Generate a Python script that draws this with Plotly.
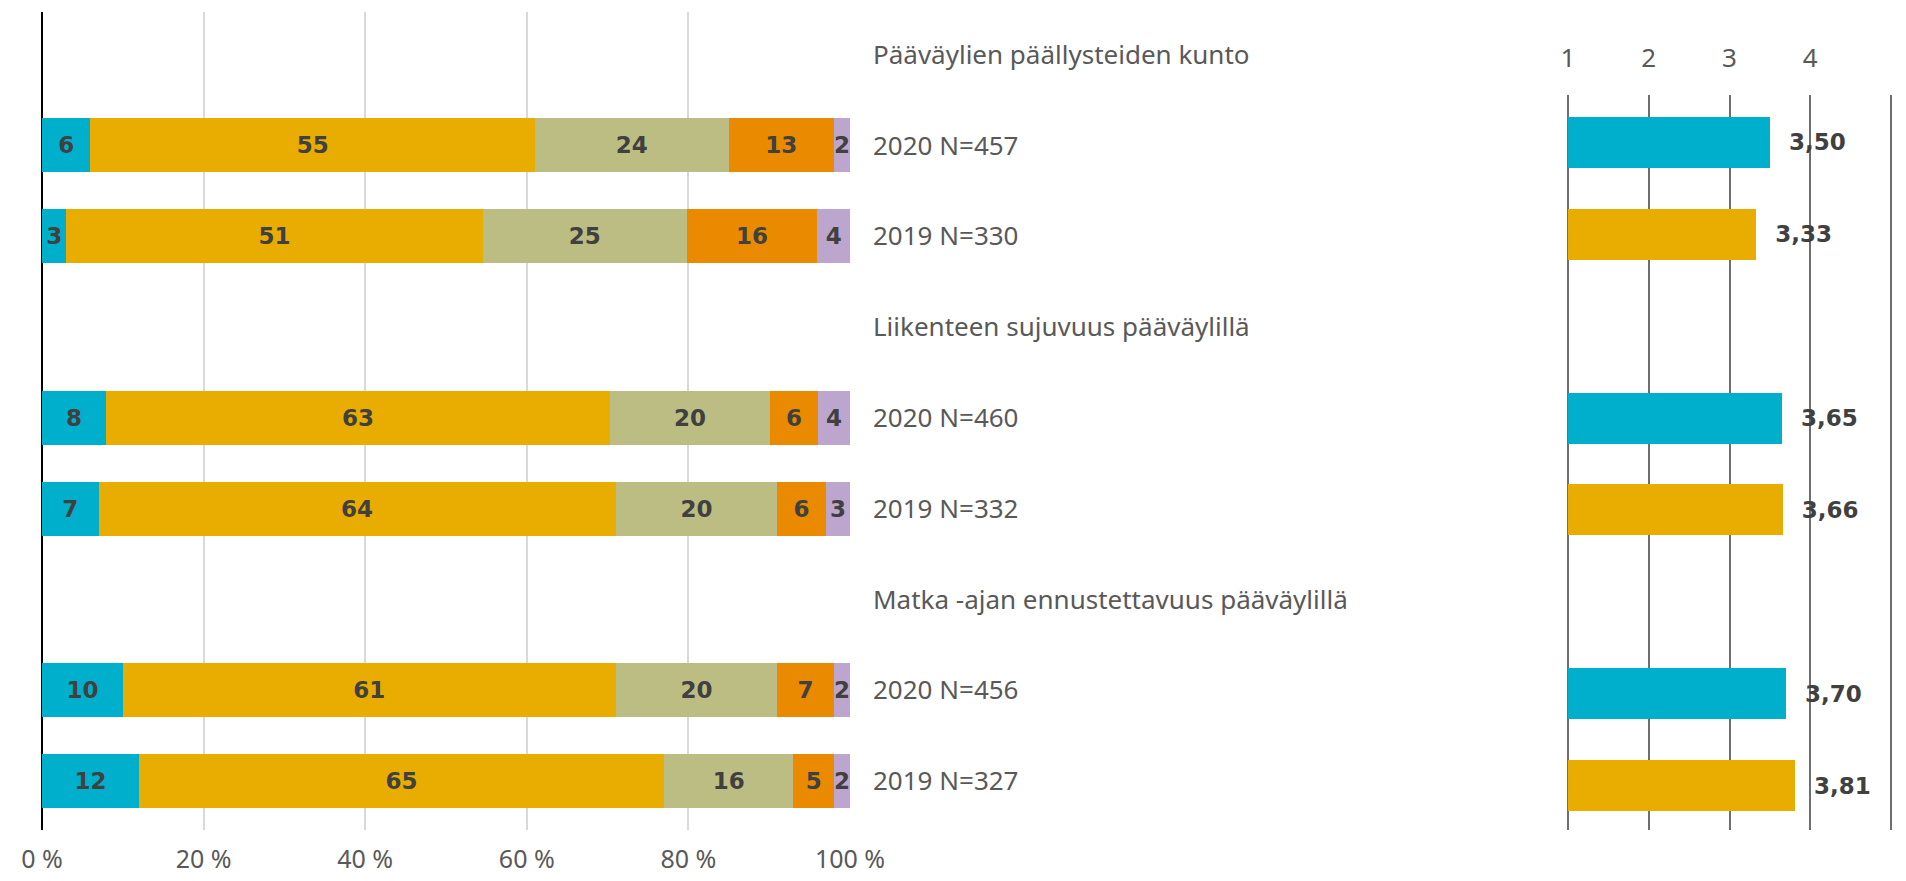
import plotly.graph_objects as go

OFF = 8  # page body margin offset
W, H = 1906 - 2 * OFF, 881 - 2 * OFF  # keep the page free of scrollbars

categories = [
    "Pääväylien päällysteiden kunto",
    "2020 N=457",
    "2019 N=330",
    "Liikenteen sujuvuus pääväylillä",
    "2020 N=460",
    "2019 N=332",
    "Matka -ajan ennustettavuus pääväylillä",
    "2020 N=456",
    "2019 N=327",
]

# stacked shares (%), None for heading rows
s1 = [None, 6, 3, None, 8, 7, None, 10, 12]
s2 = [None, 55, 51, None, 63, 64, None, 61, 65]
s3 = [None, 24, 25, None, 20, 20, None, 20, 16]
s4 = [None, 13, 16, None, 6, 6, None, 7, 5]
s5 = [None, 2, 4, None, 4, 3, None, 2, 2]
series = [s1, s2, s3, s4, s5]
series_colors = ["#00AFCB", "#E9AC00", "#BCBD82", "#EA8A00", "#BDA6CE"]

# mean scores (1-5)
mean_rows = ["2020 N=457", "2019 N=330", "2020 N=460", "2019 N=332", "2020 N=456", "2019 N=327"]
mean_values = [3.50, 3.33, 3.65, 3.66, 3.70, 3.81]
mean_colors = ["#00AFCB", "#E9AC00", "#00AFCB", "#E9AC00", "#00AFCB", "#E9AC00"]
scale_min = 1

pct_ticks = [0, 20, 40, 60, 80, 100]
pct_labels = ["0 %", "20 %", "40 %", "60 %", "80 %", "100 %"]
score_ticks = [1, 2, 3, 4, 5]

# 100 % stacked: normalise each row by its total
row_tot = []
for i in range(len(categories)):
    vals = [s[i] for s in series if s[i] is not None]
    row_tot.append(sum(vals) if vals else None)

fig = go.Figure()

bold_font = dict(family="DejaVu Sans", size=23, color="#404040", weight="bold")

for vals, col in zip(series, series_colors):
    xs = [None if v is None else v * 100.0 / row_tot[i] for i, v in enumerate(vals)]
    fig.add_trace(go.Bar(
        y=categories, x=xs, orientation="h",
        marker=dict(color=col, line=dict(width=0)),
        text=[("" if v is None else str(v)) for v in vals],
        texttemplate="%{text}",
        textposition="inside", insidetextanchor="middle",
        constraintext="none",
        textfont=bold_font,
        width=0.595,
        xaxis="x", yaxis="y", showlegend=False, hoverinfo="skip",
    ))

# bars start at the scale minimum (1)
fig.add_trace(go.Bar(
    y=mean_rows, x=[v - scale_min for v in mean_values], base=scale_min,
    orientation="h",
    customdata=mean_values,
    marker=dict(color=mean_colors, line=dict(width=0)),
    texttemplate="\u00a0\u00a0%{customdata:.2f}", textposition="outside",
    textfont=bold_font,
    constraintext="none",
    cliponaxis=False,
    width=0.555,
    xaxis="x2", yaxis="y2", showlegend=False, hoverinfo="skip",
))

px = lambda p: (p - OFF) / W
py = lambda p: 1 - (p - OFF) / H

label_font = dict(family="Noto Sans", size=26, color="#595959")
bottom_font = dict(family="Noto Sans", size=25, color="#595959")

# right chart: 1 at x=1568, 5 near the right edge (page px)
x1, x5 = 1568, 1891
unit_px = (x5 - x1) / 4.0
eps_l = 0.05
right_edge = OFF + W
eps_r = (right_edge - x5) / unit_px

fig.update_layout(
    width=W, height=H,
    margin=dict(l=0, r=0, t=0, b=0),
    paper_bgcolor="white", plot_bgcolor="white",
    barmode="stack",
    separators=", ",
    xaxis=dict(
        domain=[px(42), px(850)], range=[0, 100],
        tickvals=pct_ticks, ticktext=pct_labels,
        showgrid=True, gridcolor="#D9D9D9", gridwidth=1.5,
        zeroline=True, zerolinecolor="#000000", zerolinewidth=2,
        showline=False, ticks="", tickfont=bottom_font,
        ticklabelstandoff=12, automargin=False, fixedrange=True,
    ),
    yaxis=dict(
        domain=[py(830), py(12)],
        categoryorder="array", categoryarray=categories,
        range=[8.539, -0.470], side="right",
        showgrid=False, zeroline=False, showline=False, ticks="",
        tickfont=label_font, ticklabelstandoff=22,
        automargin=False, fixedrange=True,
    ),
    xaxis2=dict(
        domain=[px(x1 - unit_px * eps_l), 1.0],
        range=[1 - eps_l, 5 + eps_r],
        anchor="y2", side="top",
        tickvals=score_ticks,
        showgrid=True, gridcolor="#6E6E6E", gridwidth=2,
        zeroline=False, showline=False, ticks="", tickfont=label_font,
        ticklabelstandoff=22, automargin=False, fixedrange=True,
    ),
    yaxis2=dict(
        domain=[py(830), py(95)], anchor="x2",
        categoryorder="array", categoryarray=categories,
        range=[8.484, 0.483],
        showgrid=False, zeroline=False, showline=False, ticks="",
        showticklabels=False, automargin=False, fixedrange=True,
    ),
)

fig.write_html("out.html")
